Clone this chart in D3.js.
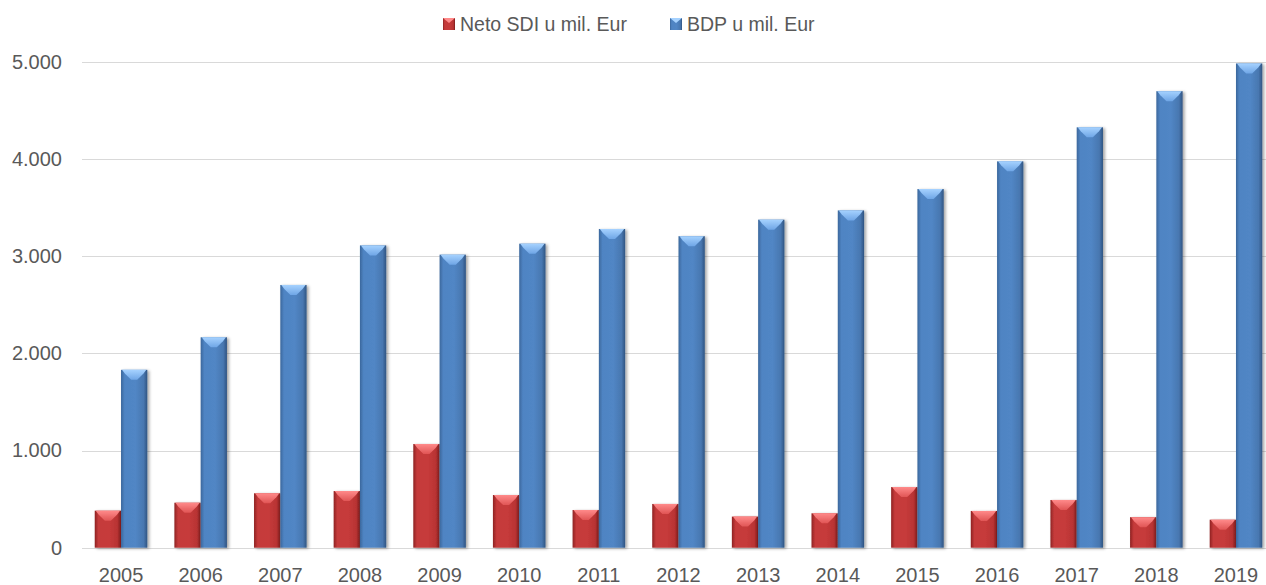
<!DOCTYPE html>
<html>
<head>
<meta charset="utf-8">
<script src="https://cdn.jsdelivr.net/npm/d3@7"></script>
<style>
  html, body { margin: 0; padding: 0; background: #ffffff; }
  svg { display: block; }
  text { font-family: "Liberation Sans", Arial, sans-serif; fill: #595959; }
</style>
</head>
<body>
<svg id="chart" width="1266" height="585"></svg>
<script>
const years = ["2005","2006","2007","2008","2009","2010","2011","2012","2013","2014","2015","2016","2017","2018","2019"];
const sdiValues = [381, 463, 560, 583, 1067, 542, 388, 450, 320, 354, 624, 378, 491, 314, 288];
const bdpValues = [1830, 2165, 2703, 3110, 3015, 3128, 3279, 3205, 3375, 3470, 3690, 3975, 4325, 4697, 4982];
const seriesNames = ["Neto SDI u mil. Eur", "BDP u mil. Eur"];
const seriesKeys = ["sdi", "bdp"];
const yTicks = [0, 1000, 2000, 3000, 4000, 5000];

const data = years.map((y, i) => ({ year: y, sdi: sdiValues[i], bdp: bdpValues[i] }));

const svg = d3.select("#chart");

const x = d3.scaleBand().domain(years).range([81.2, 1275.8]).paddingInner(0.34).paddingOuter(0.17);
const xs = d3.scaleBand().domain(seriesKeys).range([0, x.bandwidth()]);
const y = d3.scaleLinear().domain([0, 5000]).range([547.7, 61.7]);

const defs = svg.append("defs");
const palette = {
  sdi: { stops: [["0%", "#8e2323"], ["14%", "#c53a3a"], ["55%", "#c63b3b"], ["86%", "#b83333"], ["100%", "#7a1b1b"]],
         cap: "#ff8a8a", capEdge: "#e05555" },
  bdp: { stops: [["0%", "#3b679c"], ["14%", "#4f84c3"], ["55%", "#5186c5"], ["86%", "#4877b0"], ["100%", "#2f5482"]],
         cap: "#a6d2ff", capEdge: "#6fa6e6" }
};
seriesKeys.forEach(k => {
  const g = defs.append("linearGradient").attr("id", "grad-" + k)
    .attr("x1", "0%").attr("x2", "100%").attr("y1", "0%").attr("y2", "0%");
  palette[k].stops.forEach(s => g.append("stop").attr("offset", s[0]).attr("stop-color", s[1]));
  const c = defs.append("linearGradient").attr("id", "cap-" + k)
    .attr("x1", "0%").attr("x2", "0%").attr("y1", "0%").attr("y2", "100%");
  c.append("stop").attr("offset", "0%").attr("stop-color", palette[k].cap);
  c.append("stop").attr("offset", "100%").attr("stop-color", palette[k].capEdge);
});
const f = defs.append("filter").attr("id", "shadow").attr("x", "-20%").attr("y", "-5%").attr("width", "150%").attr("height", "115%");
f.append("feDropShadow").attr("dx", 2).attr("dy", 1).attr("stdDeviation", 1.6)
  .attr("flood-color", "#000").attr("flood-opacity", 0.35);

// gridlines
svg.append("g").selectAll("line").data(yTicks).join("line")
  .attr("x1", 82).attr("x2", 1276)
  .attr("y1", d => Math.round(y(d)) + 0.5).attr("y2", d => Math.round(y(d)) + 0.5)
  .attr("stroke", "#d9d9d9").attr("stroke-width", 1);

// y axis labels
const yAxis = d3.axisLeft(y).tickValues(yTicks).tickSize(0).tickPadding(0)
  .tickFormat(d => d3.format(",")(d).replace(/,/g, "."));
const yg = svg.append("g").attr("transform", "translate(62,0)").call(yAxis);
yg.select(".domain").remove();
yg.selectAll("text").style("font-size", "20px").attr("fill", "#606060")
  .style("font-family", "'Liberation Sans', Arial, sans-serif");

// x axis labels
const xAxis = d3.axisBottom(x).tickSize(0).tickPadding(0);
const xg = svg.append("g").attr("transform", "translate(0,568)").call(xAxis);
xg.select(".domain").remove();
xg.selectAll("text").style("font-size", "20px").attr("fill", "#606060")
  .style("font-family", "'Liberation Sans', Arial, sans-serif");

// bars
const groups = svg.append("g").selectAll("g").data(data).join("g")
  .attr("transform", d => `translate(${x(d.year)},0)`);

seriesKeys.forEach(k => {
  const bw = xs.bandwidth();
  const bar = groups.append("g").attr("filter", "url(#shadow)");
  bar.append("rect")
    .attr("x", xs(k)).attr("width", bw)
    .attr("y", d => y(d[k])).attr("height", d => y(0) - y(d[k]))
    .attr("fill", `url(#grad-${k})`);
  // top bevel cap (chevron)
  bar.append("path")
    .attr("d", d => {
      const x0 = xs(k), t = y(d[k]);
      const depth = Math.min(10, (y(0) - t) / 2);
      return `M${x0 + 1},${t} L${x0 + bw - 1},${t} L${x0 + bw - 4},${t + 4} L${x0 + bw / 2 + 3},${t + depth} L${x0 + bw / 2 - 3},${t + depth} L${x0 + 4},${t + 4} Z`;
    })
    .attr("fill", `url(#cap-${k})`);
});

// legend
const legend = svg.append("g");
const legendItems = [
  { key: "sdi", name: seriesNames[0], mx: 443, tx: 460 },
  { key: "bdp", name: seriesNames[1], mx: 670, tx: 687 }
];
legendItems.forEach(it => {
  legend.append("rect").attr("x", it.mx).attr("y", 18).attr("width", 12).attr("height", 12)
    .attr("fill", `url(#grad-${it.key})`);
  legend.append("path")
    .attr("d", `M${it.mx},18 L${it.mx + 12},18 L${it.mx + 6},23 Z`)
    .attr("fill", palette[it.key].cap);
  legend.append("text").attr("x", it.tx).attr("y", 24).attr("dy", "0.35em")
    .style("font-size", "19.5px").text(it.name);
});
</script>
</body>
</html>
